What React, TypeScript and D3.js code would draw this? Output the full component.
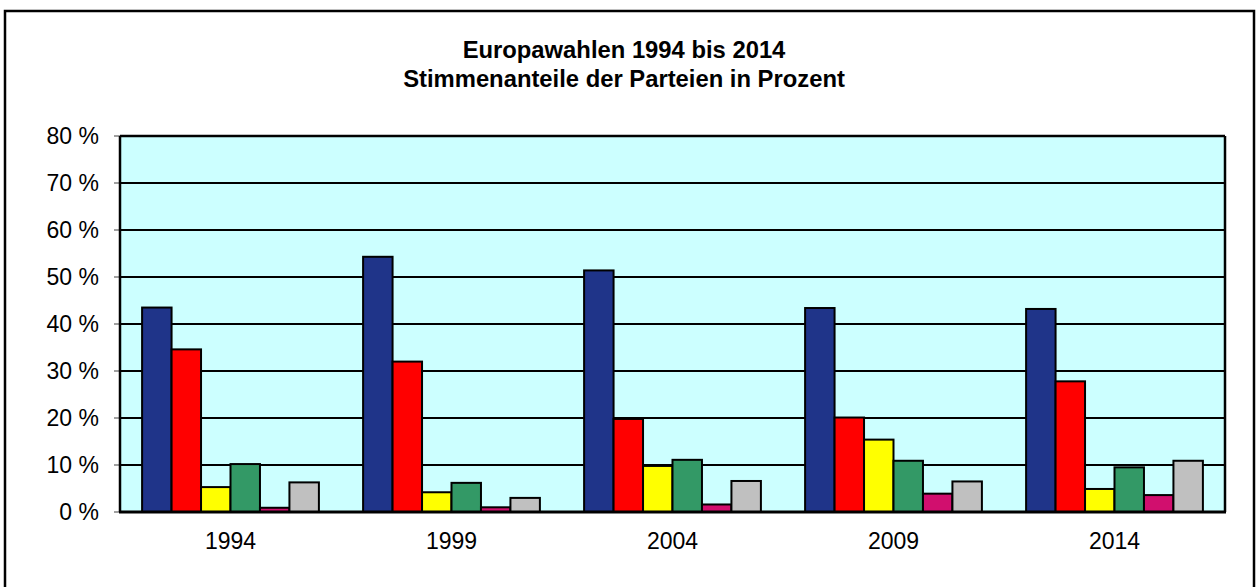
import React from "react";
import * as d3 from "d3";

const years = ["1994", "1999", "2004", "2009", "2014"];
const seriesNames = ["blau", "rot", "gelb", "gruen", "magenta", "grau"];
const blue = [43.5, 54.3, 51.4, 43.4, 43.2];
const red = [34.6, 32.0, 19.8, 20.1, 27.8];
const yellow = [5.3, 4.2, 9.8, 15.4, 4.9];
const green = [10.2, 6.2, 11.1, 10.9, 9.5];
const magenta = [0.9, 1.0, 1.6, 3.9, 3.6];
const grey = [6.3, 3.0, 6.6, 6.5, 10.9];
const yTicks = [0, 10, 20, 30, 40, 50, 60, 70, 80];
const colors = ["#1F3489", "#FF0000", "#FFFF00", "#339966", "#D10F6E", "#C0C0C0"];
const titleLines = ["Europawahlen 1994 bis 2014", "Stimmenanteile der Parteien in Prozent"];

const allSeries = [blue, red, yellow, green, magenta, grey];

export default function App() {
  const W = 1256, H = 587;
  const left = 120, right = 1225, top = 136, bottom = 512;
  const x0 = d3.scaleBand<string>().domain(years).range([left, right]).paddingInner(0.2).paddingOuter(0.1);
  const x1 = d3.scaleBand<string>().domain(seriesNames).range([0, x0.bandwidth()]);
  const y = d3.scaleLinear().domain([0, 80]).range([bottom, top]);
  const font = "Arial, 'Liberation Sans', sans-serif";

  return (
    <svg width={W} height={H} style={{ position: "absolute", left: 0, top: 0 }} fontFamily={font}>
      <rect x={0} y={0} width={W} height={H} fill="#fff" />
      <rect x={5} y={11} width={1249} height={H + 10} fill="#fff" stroke="#000" strokeWidth={2.5} />
      {titleLines.map((t, i) => (
        <text key={i} x={624} y={58 + i * 29} textAnchor="middle" fontWeight="bold" fontSize={23.8} fill="#000">{t}</text>
      ))}
      <rect x={left} y={top} width={right - left} height={bottom - top} fill="#CCFFFF" />
      {yTicks.map((t) => (
        <g key={t}>
          <line x1={left} x2={right} y1={y(t)} y2={y(t)} stroke="#000" strokeWidth={2} />
          <line x1={114} x2={left} y1={y(t)} y2={y(t)} stroke="#808080" strokeWidth={1.5} />
          <text x={99} y={y(t) + 8} textAnchor="end" fontSize={23} fill="#000">{t} %</text>
        </g>
      ))}
      {years.map((yr, gi) => (
        <g key={yr} transform={`translate(${x0(yr)},0)`}>
          {allSeries.map((s, si) => (
            <rect key={si} x={x1(seriesNames[si])!} y={y(s[gi])} width={x1.bandwidth()} height={bottom - y(s[gi])}
              fill={colors[si]} stroke="#000" strokeWidth={2} />
          ))}
        </g>
      ))}
      <line x1={left} x2={left} y1={top} y2={bottom} stroke="#000" strokeWidth={2.5} />
      <line x1={right} x2={right} y1={top} y2={bottom} stroke="#000" strokeWidth={2.5} />
      <line x1={left} x2={right} y1={top} y2={top} stroke="#000" strokeWidth={2.5} />
      <line x1={left - 1} x2={right + 1} y1={bottom} y2={bottom} stroke="#000" strokeWidth={3} />
      {years.map((yr) => (
        <text key={yr} x={x0(yr)! + x0.bandwidth() / 2} y={549} textAnchor="middle" fontSize={23} fill="#000">{yr}</text>
      ))}
    </svg>
  );
}
